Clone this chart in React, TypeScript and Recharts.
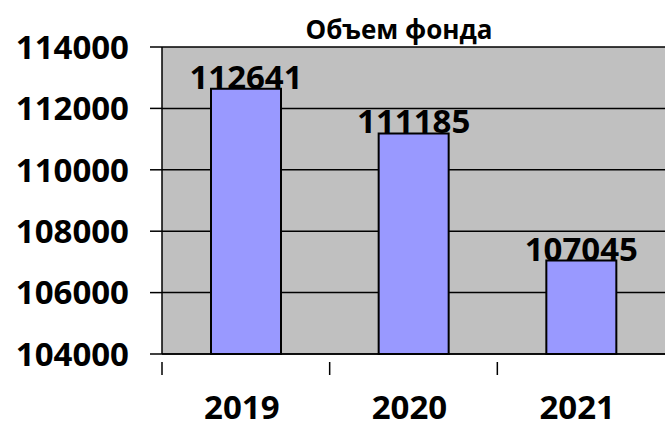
import { BarChart, Bar, XAxis, YAxis, CartesianGrid, LabelList } from 'recharts';

const years = ['2019', '2020', '2021'];
const volumes = [112641, 111185, 107045];
const yTicks = [104000, 106000, 108000, 110000, 112000, 114000];

const chartData = years.map((year, i) => ({ year, volume: volumes[i] }));

const FONT = '"Open Sans", sans-serif';
const BAND = 503 / years.length;

function YearTick(props: any) {
  const { x, y, payload } = props;
  const edge = x - BAND / 2;
  return (
    <g>
      <line x1={edge} y1={y} x2={edge} y2={y + 13} stroke="#000" strokeWidth={1.5} />
      <text x={x - 4} y={y + 57} textAnchor="middle" fontFamily={FONT} fontWeight={700} fontSize={33} fill="#000">
        {payload.value}
      </text>
    </g>
  );
}

export default function App() {
  return (
    <div style={{ position: 'absolute', left: 0, top: 0, width: 665, height: 428, background: '#fff' }}>
      <div
        style={{
          position: 'absolute',
          left: 249,
          top: 11,
          width: 300,
          textAlign: 'center',
          fontFamily: FONT,
          fontWeight: 700,
          fontSize: 26,
          lineHeight: '36px',
          color: '#000',
        }}
      >
        Объем фонда
      </div>
      <BarChart width={665} height={428} data={chartData} margin={{ top: 47, right: 0, bottom: 0, left: 0 }}>
        <CartesianGrid fill="#c0c0c0" stroke="#000" strokeWidth={1.5} vertical={false} />
        <XAxis
          dataKey="year"
          height={74}
          axisLine={{ stroke: '#000', strokeWidth: 1.5 }}
          tickLine={false}
          tick={<YearTick />}
          interval={0}
        />
        <YAxis
          width={162}
          domain={[104000, 114000]}
          ticks={yTicks}
          interval={0}
          tickSize={12}
          tickMargin={21}
          axisLine={{ stroke: '#000', strokeWidth: 1.5 }}
          tickLine={{ stroke: '#000', strokeWidth: 1.5 }}
          tick={{ fill: '#000', fontFamily: FONT, fontWeight: 700, fontSize: 33 }}
        />
        <Bar dataKey="volume" fill="#9999ff" stroke="#000" strokeWidth={2} barSize={70} isAnimationActive={false}>
          <LabelList
            dataKey="volume"
            position="top"
            offset={0}
            fill="#000"
            fontFamily={FONT}
            fontWeight={700}
            fontSize={33}
          />
        </Bar>
      </BarChart>
    </div>
  );
}
